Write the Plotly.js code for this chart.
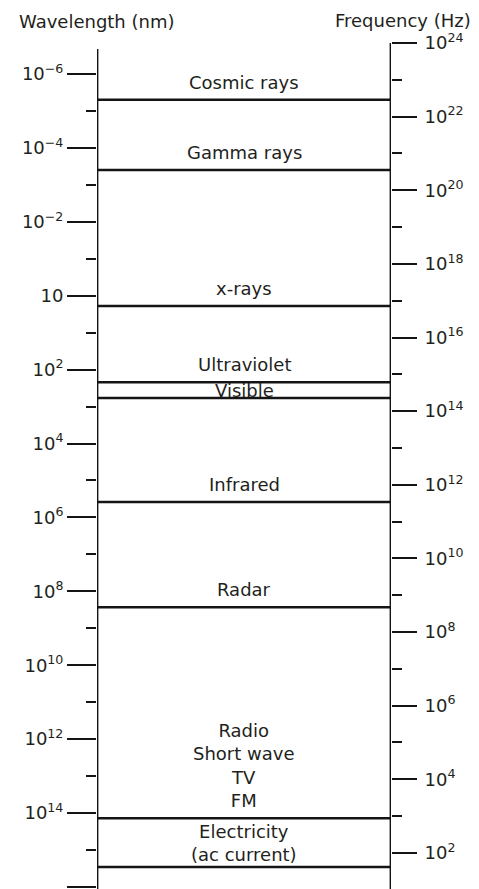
<!DOCTYPE html>
<html>
<head>
<meta charset="utf-8">
<script src="https://cdn.plot.ly/plotly-3.0.1.min.js"></script>
<style>html,body{margin:0;padding:0;background:#fff;}</style>
</head>
<body>
<div id="chart" style="width:479px;height:889px;"></div>
<script>
// ---- data ----
// band names, top to bottom
var bandNames = ['Cosmic rays', 'Gamma rays', 'x-rays', 'Ultraviolet', 'Visible', 'Infrared', 'Radar',
                 'Radio<br>Short wave<br>TV<br>FM', 'Electricity<br>(ac current)'];
// lower boundary of each band, log10(wavelength in nm)
var bandLowerEdges = [-5.30, -3.40, 0.28, 2.34, 2.77, 5.58, 8.43, 14.14, 15.46];
// bands whose label is centred in the band rather than sitting on its lower edge
var centredBands = ['Visible', 'Electricity<br>(ac current)'];

// wavelength axis (log10 nm)
var wlMajorTicks = [-6, -4, -2, 0, 2, 4, 6, 8, 10, 12, 14, 16];
var wlTickText = ['10<sup>\u22126</sup>', '10<sup>\u22124</sup>', '10<sup>\u22122</sup>', '10',
                  '10<sup>2</sup>', '10<sup>4</sup>', '10<sup>6</sup>', '10<sup>8</sup>',
                  '10<sup>10</sup>', '10<sup>12</sup>', '10<sup>14</sup>', '10<sup>16</sup>'];
// frequency axis (log10 Hz)
var fqMajorTicks = [24, 22, 20, 18, 16, 14, 12, 10, 8, 6, 4, 2];
var fqTickText = ['10<sup>24</sup>', '10<sup>22</sup>', '10<sup>20</sup>', '10<sup>18</sup>',
                  '10<sup>16</sup>', '10<sup>14</sup>', '10<sup>12</sup>', '10<sup>10</sup>',
                  '10<sup>8</sup>', '10<sup>6</sup>', '10<sup>4</sup>', '10<sup>2</sup>'];

// ---- style ----
var FONT = 'DejaVu Sans, Liberation Sans, sans-serif';
var TXT = '#231f20';
var LINE = '#151515';
var wlRange = [16.057, -6.839];
var fqRange = [1.02, 24];
var wlAxisTop = -6.68;

// boundaries trace
var bx = [], by = [];
bandLowerEdges.forEach(function (e) { bx.push(0, 1, null); by.push(e, e, null); });

var traces = [
  { type: 'scatter', mode: 'lines', x: bx, y: by, xaxis: 'x', yaxis: 'y',
    line: { color: LINE, width: 2.5 }, hoverinfo: 'skip', showlegend: false, cliponaxis: false },
  { type: 'scatter', mode: 'lines', x: [0, 0], y: [wlAxisTop, wlRange[0]], xaxis: 'x', yaxis: 'y',
    line: { color: LINE, width: 2.8 }, hoverinfo: 'skip', showlegend: false, cliponaxis: false },
  { type: 'scatter', mode: 'lines', x: [1, 1], y: [fqRange[0], fqRange[1]], xaxis: 'x', yaxis: 'y2',
    line: { color: LINE, width: 2.8 }, hoverinfo: 'skip', showlegend: false, cliponaxis: false }
];

var annotations = bandNames.map(function (name, i) {
  var lower = bandLowerEdges[i];
  var upper = i > 0 ? bandLowerEdges[i - 1] : wlAxisTop;
  var centred = centredBands.indexOf(name) >= 0;
  return {
    xref: 'x', yref: 'y', x: 0.5,
    y: centred ? (lower + upper) / 2 : lower,
    yanchor: centred ? 'middle' : 'bottom',
    yshift: centred ? 0 : 5,
    text: name, showarrow: false,
    font: { family: FONT, size: 18, color: TXT }
  };
});
annotations.push({
  xref: 'paper', yref: 'paper', x: -0.272, y: 1, xanchor: 'left', yanchor: 'middle', yshift: 22,
  text: 'Wavelength (nm)', showarrow: false, font: { family: FONT, size: 18, color: TXT }
});
annotations.push({
  xref: 'paper', yref: 'paper', x: 1.279, y: 1, xanchor: 'right', yanchor: 'middle', yshift: 23,
  text: 'Frequency (Hz)', showarrow: false, font: { family: FONT, size: 18, color: TXT }
});

var layout = {
  width: 479, height: 889,
  margin: { l: 97, r: 88, t: 43, b: 0, pad: 0 },
  paper_bgcolor: '#fff', plot_bgcolor: '#fff',
  showlegend: false, hovermode: false,
  font: { family: FONT, size: 18, color: TXT },
  xaxis: { range: [0, 1], visible: false, fixedrange: true },
  yaxis: {
    range: wlRange, showgrid: false, zeroline: false, showline: false,
    tickmode: 'array', tickvals: wlMajorTicks, ticktext: wlTickText,
    ticks: 'outside', ticklen: 29, tickwidth: 2, tickcolor: LINE,
    tickfont: { family: FONT, size: 18, color: TXT },
    minor: { tickmode: 'linear', tick0: -7, dtick: 1, ticks: 'outside', ticklen: 10, tickwidth: 2, tickcolor: LINE, showgrid: false },
    fixedrange: true
  },
  yaxis2: {
    overlaying: 'y', side: 'right', anchor: 'x',
    range: fqRange, showgrid: false, zeroline: false, showline: false,
    tickmode: 'array', tickvals: fqMajorTicks, ticktext: fqTickText,
    ticks: 'outside', ticklen: 25, tickwidth: 2, tickcolor: LINE,
    ticklabelstandoff: 4,
    tickfont: { family: FONT, size: 18, color: TXT },
    minor: { tickmode: 'linear', tick0: 1, dtick: 1, ticks: 'outside', ticklen: 10, tickwidth: 2, tickcolor: LINE, showgrid: false },
    fixedrange: true
  },
  annotations: annotations
};

Plotly.newPlot('chart', traces, layout, { staticPlot: true, displayModeBar: false });
</script>
</body>
</html>
